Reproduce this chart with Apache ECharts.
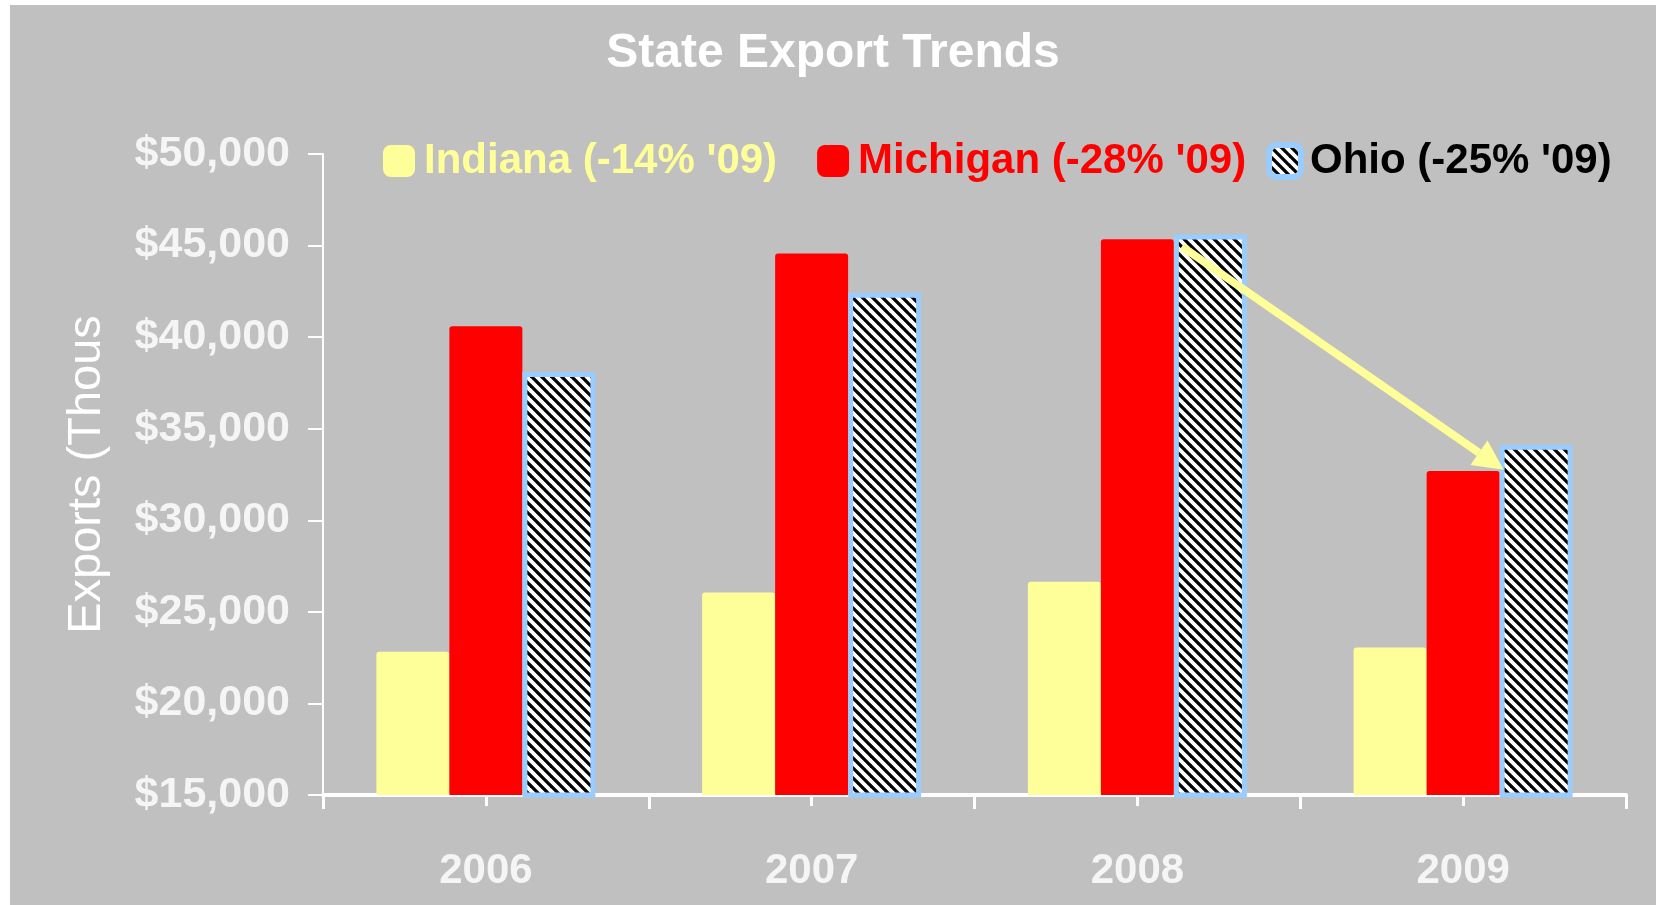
<!DOCTYPE html>
<html lang="en">
<head>
    <meta charset="UTF-8">
    <title>State Export Trends</title>
    <script src="https://cdn.jsdelivr.net/npm/echarts@6/dist/echarts.min.js"></script>
    <style>
        body { margin: 0; background: #ffffff; }
        #container { position: absolute; left: 10px; top: 5px; width: 1646px; height: 900px; }
    </style>
</head>
<body>

<div id="container"></div>
<script type="text/javascript">
    // values (thousands of dollars)
    var years = ['2006', '2007', '2008', '2009'];
    var indiana = [22820, 26060, 26640, 23060];
    var michigan = [40600, 44570, 45340, 32690];
    var ohio = [38100, 42420, 45600, 34120];
    var legendNames = ["Indiana (-14% '09)", "Michigan (-28% '09)", "Ohio (-25% '09)"];

    var font = 'Liberation Sans, Arial, sans-serif';

    // black / white diagonal hatch for Ohio
    var hatch = document.createElement('canvas');
    hatch.width = 20;
    hatch.height = 20;
    var ctx = hatch.getContext('2d');
    ctx.fillStyle = '#ffffff';
    ctx.fillRect(0, 0, 20, 20);
    ctx.strokeStyle = '#000000';
    ctx.lineWidth = 3.3;
    [-20, -10, 0, 10, 20].forEach(function (k) {
        ctx.beginPath();
        ctx.moveTo(k - 2, -2);
        ctx.lineTo(k + 22, 22);
        ctx.stroke();
    });

    var dom = document.getElementById("container");
    var myChart = echarts.init(dom);

    var centreTick = function (inside, len) {
        return {
            type: 'category',
            data: years,
            position: 'bottom',
            axisLine: { show: false },
            axisTick: { show: true, inside: inside, alignWithLabel: true, length: len,
                        lineStyle: { color: '#ffffff', width: 3 } },
            axisLabel: { show: false }
        };
    };

    var legendBase = function (left, items) {
        return {
            left: left,
            top: 135,
            padding: 0,
            itemWidth: 32,
            itemHeight: 32,
            itemGap: 40,
            textStyle: { fontSize: 42, fontWeight: 'bold', fontFamily: font, padding: [0, 0, 0, 4] },
            data: items
        };
    };

    var option = {
        backgroundColor: '#c0c0c0',
        animation: false,
        title: {
            text: 'State Export Trends',
            left: 'center',
            top: 20,
            textStyle: { color: '#ffffff', fontSize: 48, fontWeight: 'bold', fontFamily: font }
        },
        legend: [
            legendBase(373, [
                { name: legendNames[0], textStyle: { color: '#ffff99' } },
                { name: legendNames[1], textStyle: { color: '#ff0000' } }
            ]),
            legendBase(1256, [
                { name: legendNames[2], textStyle: { color: '#000000' },
                  itemStyle: { borderColor: '#99ccff', borderWidth: 6 } }
            ])
        ],
        grid: { left: 313, right: 30, top: 149, bottom: 110 },
        xAxis: [{
            type: 'category',
            data: years,
            axisLine: { show: true, lineStyle: { color: '#ffffff', width: 4 } },
            axisTick: { show: true, length: 14, lineStyle: { color: '#ffffff', width: 3 } },
            axisLabel: { color: '#f5f5f5', fontSize: 42, fontWeight: 'bold', fontFamily: font, margin: 55 }
        }, centreTick(true, 12), centreTick(false, 11)],
        yAxis: {
            type: 'value',
            min: 15000,
            max: 50000,
            interval: 5000,
            name: 'Exports (Thous',
            nameLocation: 'middle',
            nameGap: 212,
            nameTextStyle: { color: '#ffffff', fontSize: 47, fontFamily: font },
            splitLine: { show: false },
            axisLine: { show: true, lineStyle: { color: '#ffffff', width: 2 } },
            axisTick: { show: true, length: 15, lineStyle: { color: '#ffffff', width: 2 } },
            axisLabel: {
                color: '#f5f5f5', fontSize: 43, fontWeight: 'bold', fontFamily: font, margin: 33,
                formatter: function (v) { return '$' + v.toLocaleString('en-US'); }
            }
        },
        series: [{
            name: legendNames[0],
            type: 'bar',
            data: indiana,
            barWidth: 73,
            barGap: '0%',
            itemStyle: { color: '#ffff99', borderRadius: [3, 3, 0, 0] }
        }, {
            name: legendNames[1],
            type: 'bar',
            data: michigan,
            barWidth: 73,
            barGap: '0%',
            itemStyle: { color: '#ff0000', borderRadius: [3, 3, 0, 0] }
        }, {
            name: legendNames[2],
            type: 'bar',
            data: ohio,
            barWidth: 73,
            barGap: '0%',
            itemStyle: {
                color: { image: hatch, repeat: 'repeat' },
                borderColor: '#99ccff',
                borderWidth: 5
            }
        }]
    };
    myChart.setOption(option, true);

    // yellow arrow from Ohio 2008 down to Ohio 2009, placed from the bar layout
    var ohioData = myChart.getModel().getSeriesByIndex(2).getData();
    function barBox(i) {
        var l = ohioData.getItemLayout(i);
        return { left: Math.min(l.x, l.x + l.width), top: Math.min(l.y, l.y + l.height) };
    }
    var a = barBox(2), b = barBox(3);
    var x1 = a.left + 8, y1 = a.top + 12;
    var x2 = b.left + 4, y2 = b.top + 25;
    var ang = Math.atan2(y2 - y1, x2 - x1);
    var headLen = 30, headHalf = 15;
    var bx = x2 - headLen * Math.cos(ang), by = y2 - headLen * Math.sin(ang);
    var nx = -Math.sin(ang), ny = Math.cos(ang);
    myChart.setOption({
        graphic: [{
            type: 'line',
            z: 100,
            shape: { x1: x1, y1: y1, x2: bx, y2: by },
            style: { stroke: '#ffff99', lineWidth: 8 }
        }, {
            type: 'polygon',
            z: 100,
            shape: { points: [[x2, y2], [bx + nx * headHalf, by + ny * headHalf], [bx - nx * headHalf, by - ny * headHalf]] },
            style: { fill: '#ffff99' }
        }]
    });
</script>
</body>
</html>
